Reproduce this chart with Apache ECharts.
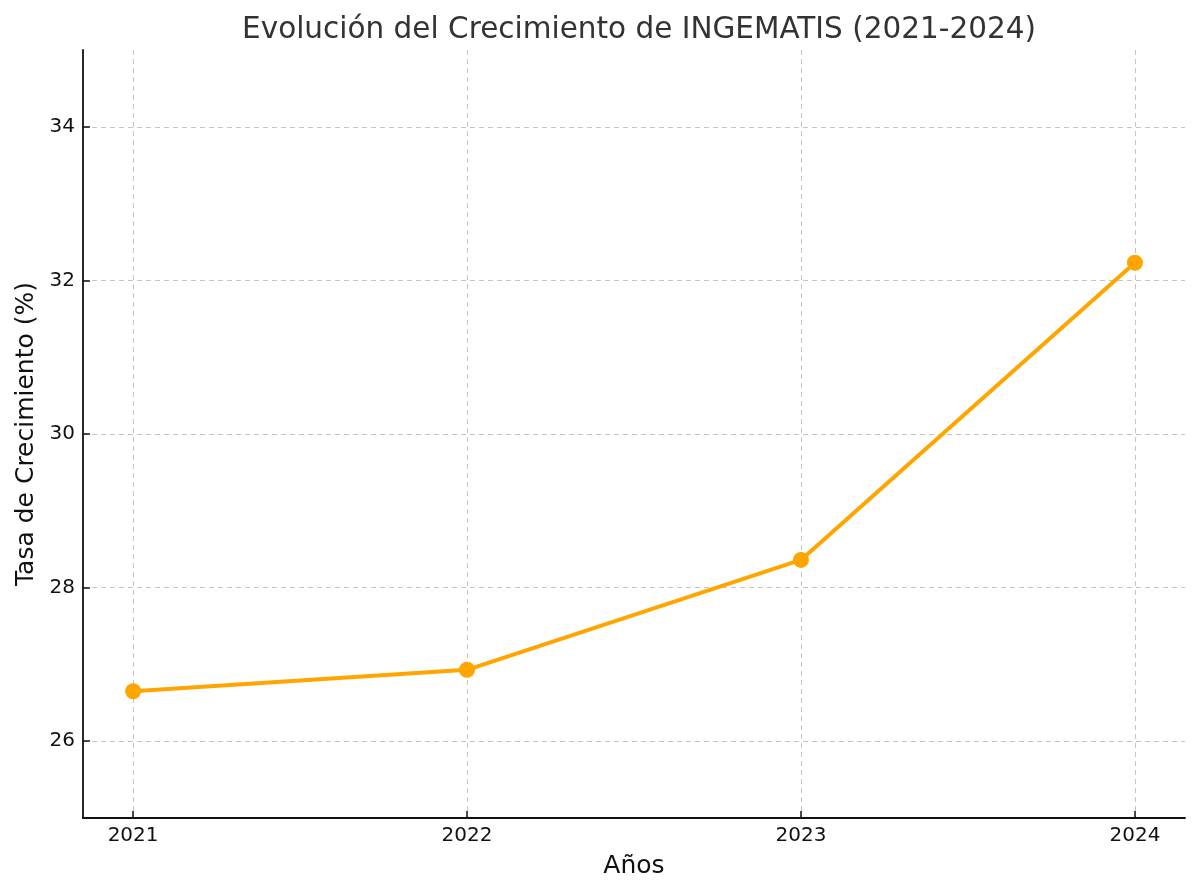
<!DOCTYPE html>
<html>
<head>
<meta charset="utf-8">
<script src="https://cdn.jsdelivr.net/npm/echarts@6/dist/echarts.min.js"></script>
<style>
  html, body { margin: 0; padding: 0; background: #fff; }
  #main { width: 1200px; height: 896px; }
</style>
</head>
<body>
<div id="main"></div>
<script>
// datos
var years = [2021, 2022, 2023, 2024];
var growth = [26.65, 26.93, 28.36, 32.23];
var yTicks = [26, 28, 30, 32, 34];

var font = 'DejaVu Sans';
var chart = echarts.init(document.getElementById('main'));

var points = [];
for (var i = 0; i < years.length; i++) {
  points.push([years[i], growth[i]]);
}

var option = {
  animation: false,
  title: {
    text: 'Evolución del Crecimiento de INGEMATIS (2021-2024)',
    left: 634,
    textAlign: 'center',
    top: 10,
    textStyle: { fontFamily: font, fontSize: 29.5, fontWeight: 'normal', color: '#333' }
  },
  grid: { left: 83, right: 15, top: 50, bottom: 78 },
  xAxis: {
    type: 'value',
    min: 2020.85,
    max: 2024.15,
    name: 'Años',
    nameLocation: 'middle',
    nameGap: 36,
    nameTextStyle: { fontFamily: font, fontSize: 25, color: '#111' },
    axisLine: { show: true, lineStyle: { color: '#111', width: 1.8 } },
    axisTick: { show: true, inside: true, length: 7, customValues: years, lineStyle: { color: '#111', width: 1.5 } },
    axisLabel: { customValues: years, margin: 8, fontFamily: font, fontSize: 20, color: '#111',
      formatter: function (v) { return String(v); } },
    splitLine: { show: true, lineStyle: { color: '#c4c4c4', type: [5, 4], width: 1 } }
  },
  yAxis: {
    type: 'value',
    min: 25,
    max: 35,
    name: 'Tasa de Crecimiento (%)',
    nameLocation: 'middle',
    nameGap: 44,
    nameTextStyle: { fontFamily: font, fontSize: 25, color: '#111' },
    axisLine: { show: true, lineStyle: { color: '#111', width: 1.8 } },
    axisTick: { show: true, inside: true, length: 7, customValues: yTicks, lineStyle: { color: '#111', width: 1.5 } },
    axisLabel: { customValues: yTicks, margin: 8, fontFamily: font, fontSize: 20, color: '#111',
      padding: [3, 0, 0, 0] },
    splitLine: { show: true, lineStyle: { color: '#c4c4c4', type: [5, 4], width: 1 } }
  },
  series: [{
    type: 'line',
    data: points,
    symbol: 'circle',
    symbolSize: 16,
    lineStyle: { color: '#FFA500', width: 4 },
    itemStyle: { color: '#FFA500' }
  }]
};

chart.setOption(option);
</script>
</body>
</html>
